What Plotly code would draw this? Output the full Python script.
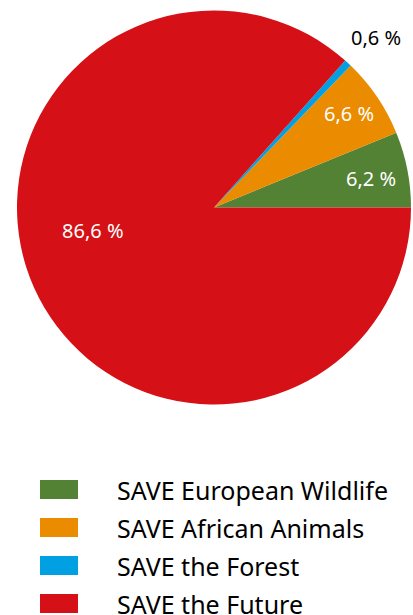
import plotly.graph_objects as go

labels = ["SAVE European Wildlife", "SAVE African Animals", "SAVE the Forest", "SAVE the Future"]
values = [6.2, 6.6, 0.6, 86.6]
colors = ["#548235", "#EA8B00", "#00A0E3", "#D51016"]

W, H = 413, 615
texts = [f"{v:.1f}".replace(".", ",") + " %" for v in values]

# label placement (pixels) and colours
label_xy = [(370.5, 178), (348.5, 114), (375.5, 38), (92.5, 230)]
label_colors = ["white", "white", "black", "white"]

fig = go.Figure()
fig.add_trace(go.Pie(
    labels=labels, values=values, text=texts, textinfo="none",
    marker=dict(colors=colors, line=dict(width=0)),
    sort=False, direction="counterclockwise", rotation=90 - values[0] * 3.6,
    domain=dict(x=[17 / W, 411 / W], y=[1 - 405 / H, 1 - 10 / H]),
    showlegend=False, hoverinfo="label+percent",
))

for t, (px, py), c in zip(texts, label_xy, label_colors):
    fig.add_annotation(text=t, xref="paper", yref="paper",
                       x=px / W, y=1 - py / H, xanchor="center", yanchor="middle",
                       showarrow=False, font=dict(family="Noto Sans", size=20, color=c))

# custom legend (wide colour swatches)
row_top = [480, 518, 556, 594]
for lab, col, top in zip(labels, colors, row_top):
    fig.add_shape(type="rect", xref="paper", yref="paper",
                  x0=40 / W, x1=78 / W, y0=1 - (top + 19) / H, y1=1 - top / H,
                  fillcolor=col, line=dict(width=0))
    fig.add_annotation(text=lab, xref="paper", yref="paper",
                       x=115 / W, y=1 - (top + 9.5) / H, xanchor="left", yanchor="middle",
                       showarrow=False, font=dict(family="Noto Sans", size=25, color="black"))

fig.update_layout(width=W, height=H, margin=dict(l=0, r=0, t=0, b=0),
                  paper_bgcolor="white", plot_bgcolor="white")
fig.write_html("out.html")
